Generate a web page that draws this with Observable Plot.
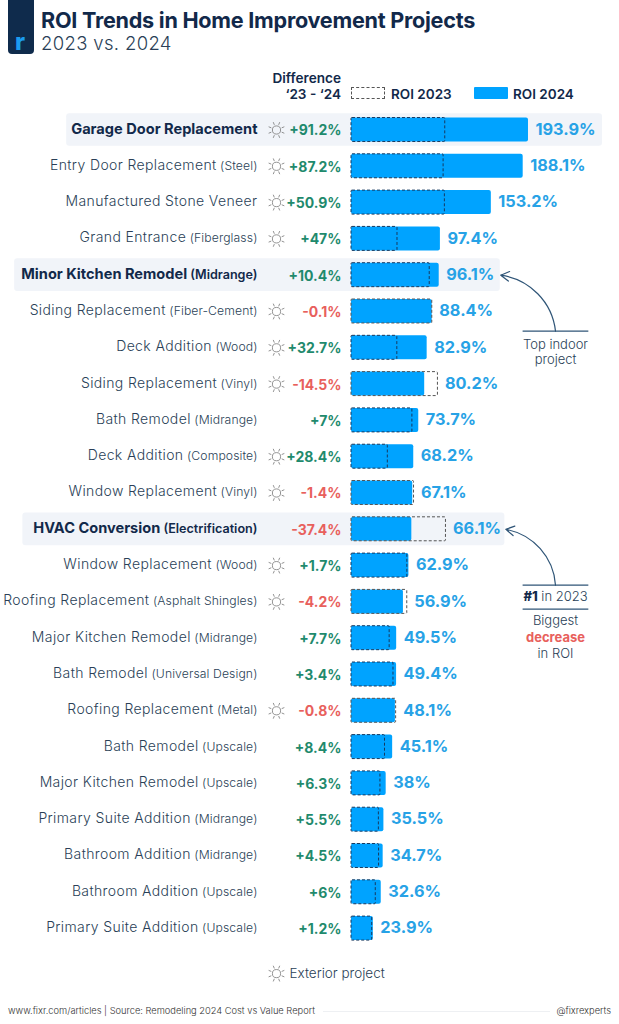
<!DOCTYPE html>
<html><head><meta charset="utf-8">
<script src="https://cdn.jsdelivr.net/npm/d3@7"></script>
<script src="https://cdn.jsdelivr.net/npm/@observablehq/plot@0.6"></script>
<style>
html,body{margin:0;padding:0;background:#fff;width:619px;overflow:hidden}
body{font-family:Inter,"Noto Sans",sans-serif;color:#12294a}
#head{position:relative;height:110px}
#head div{position:absolute;white-space:nowrap}
#logo{left:8px;top:0;width:26px;height:54px;background:#0f2b4c;border-radius:0 0 4px 4px}
#logo span{position:absolute;left:7px;bottom:0px;font:800 24px/24px Inter;color:#1b9cf0}
#title{left:41px;top:7px;font:700 21.6px/26px Inter;letter-spacing:-.25px;color:#12294a}
#sub{left:41px;top:31px;font:300 18.5px/24px Inter;letter-spacing:.35px;color:#2b3f57}
#diff{right:278px;top:70px;text-align:right;font:600 13.6px/16px Inter;color:#12294a}
.sw{height:12px;width:34px;top:87px;box-sizing:border-box;border-radius:1px}
.lg{top:86px;font:600 13.5px/16px Inter;color:#12294a}
#chart svg{display:block}
#foot{position:relative;height:34px}
#foot div{position:absolute;white-space:nowrap;font:300 9.3px/14px Inter;color:#333;top:14px}
</style></head><body>
<div id="head">
  <div id="logo"><span>r</span></div>
  <div id="title">ROI Trends in Home Improvement Projects</div>
  <div id="sub">2023 vs. 2024</div>
  <div id="diff">Difference<br>‘23 - ‘24</div>
  <div class="sw" style="left:351px;border:1px dashed #555"></div>
  <div class="lg" style="left:391px">ROI 2023</div>
  <div class="sw" style="left:474px;background:#00a3ff"></div>
  <div class="lg" style="left:513px">ROI 2024</div>
</div>
<div id="chart"></div>
<div id="foot">
  <div style="left:8px">www.fixr.com/articles | Source: Remodeling 2024 Cost vs Value Report</div>
  <div style="left:323px;top:21px;width:227px;height:1px;background:#eef0f3"></div>
  <div style="right:8px">@fixrexperts</div>
</div>
<script>
const names = ["Garage Door Replacement","Entry Door Replacement","Manufactured Stone Veneer","Grand Entrance","Minor Kitchen Remodel","Siding Replacement","Deck Addition","Siding Replacement","Bath Remodel","Deck Addition","Window Replacement","HVAC Conversion","Window Replacement","Roofing Replacement","Major Kitchen Remodel","Bath Remodel","Roofing Replacement","Bath Remodel","Major Kitchen Remodel","Primary Suite Addition","Bathroom Addition","Bathroom Addition","Primary Suite Addition"];
const details = ["","(Steel)","","(Fiberglass)","(Midrange)","(Fiber-Cement)","(Wood)","(Vinyl)","(Midrange)","(Composite)","(Vinyl)","(Electrification)","(Wood)","(Asphalt Shingles)","(Midrange)","(Universal Design)","(Metal)","(Upscale)","(Upscale)","(Midrange)","(Midrange)","(Upscale)","(Upscale)"];
const roi2024 = [193.9,188.1,153.2,97.4,96.1,88.4,82.9,80.2,73.7,68.2,67.1,66.1,62.9,56.9,49.5,49.4,48.1,45.1,38,35.5,34.7,32.6,23.9];
const roi2023 = [102.7,100.9,102.3,50.4,85.7,88.5,50.2,94.7,66.7,39.8,68.5,103.5,61.2,61.1,41.8,46,48.9,36.7,31.7,30,30.2,26.6,22.7];
const diffs = ["+91.2%","+87.2%","+50.9%","+47%","+10.4%","-0.1%","+32.7%","-14.5%","+7%","+28.4%","-1.4%","-37.4%","+1.7%","-4.2%","+7.7%","+3.4%","-0.8%","+8.4%","+6.3%","+5.5%","+4.5%","+6%","+1.2%"];
const exterior = [1,1,1,1,0,1,1,1,0,1,1,0,1,1,0,0,1,0,0,0,0,0,0];
const featured = [0,4,11];
const featuredLeft = [-312,-369,-360];
const featuredRight = [275,163,168];

const rows = names.map((name,i)=>({i,name,detail:details[i],v24:roi2024[i],v23:roi2023[i],diff:diffs[i],ext:exterior[i],bold:featured.includes(i)}));

const sun = {draw(c,size){
  const r=Math.sqrt(size/Math.PI), a=r*.48;
  c.moveTo(a,0); c.arc(0,0,a,0,2*Math.PI);
  for(let k=0;k<8;k++){const t=k*Math.PI/4+Math.PI/8;
    c.moveTo(Math.cos(t)*r*.66,Math.sin(t)*r*.66);
    c.lineTo(Math.cos(t)*r,Math.sin(t)*r);}
}};
const navy="#12294a", ink="#2a3f57", green="#1f8a6d", red="#e8605c", blue="#00a3ff", labelBlue="#27a2e6", arrowC="#2f5577";
const font="Inter";
const rowLabel = d=>d.name+"|"+d.detail;
const plot = Plot.plot({
  width:619,height:880,margin:0,
  style:{background:"transparent",fontFamily:font},
  x:{domain:[-384.5,293.6],range:[0,619],axis:null},
  y:{domain:[-0.5,23.6],range:[1.35,876.18],axis:null},
  marks:[
    Plot.rect(featured,{x1:(d,k)=>featuredLeft[k],x2:(d,k)=>featuredRight[k],y1:d=>d-.45,y2:d=>d+.45,fill:"#f1f4f9",rx:3}),
    Plot.rect(rows,{x1:0,x2:"v24",y1:d=>d.i-.33,y2:d=>d.i+.33,fill:blue,rx:2}),
    Plot.rect(rows,{x1:0,x2:"v23",y1:d=>d.i-.33,y2:d=>d.i+.33,stroke:d=>d.v23>d.v24?"#555":"#17395f",fill:"none",strokeWidth:1,strokeDasharray:"3 2",rx:1}),
    Plot.text(rows.filter(d=>!d.bold),{x:0,y:"i",dx:-94,dy:-1,text:rowLabel,textAnchor:"end",className:"rowlab",fill:ink,fontSize:14,fontWeight:300}),
    Plot.text(rows.filter(d=>d.bold),{x:0,y:"i",dx:-94,dy:-1,text:rowLabel,textAnchor:"end",className:"rowbold",fill:navy,fontSize:14.6,fontWeight:700}),
    Plot.dot(rows.filter(d=>d.ext),{x:0,y:"i",dx:-75,symbol:sun,r:8.5,stroke:"#777",strokeWidth:.8,fill:"none"}),
    Plot.text(rows,{x:0,y:"i",dx:-10,dy:1,text:"diff",textAnchor:"end",fill:d=>d.diff[0]==="-"?red:green,fontSize:14,fontWeight:700}),
    Plot.text(rows,{x:d=>Math.max(d.v23,d.v24),y:"i",dx:7,dy:-.5,text:d=>(+d.v24)+"%",textAnchor:"start",fill:labelBlue,fontSize:16.3,fontWeight:700}),
    // annotations
    Plot.arrow([0],{x1:223.5,y1:5.54,x2:163.5,y2:4,bend:-38,stroke:arrowC,strokeWidth:1.2,headLength:12}),
    Plot.ruleY([5.54],{x1:188,x2:260,stroke:arrowC,strokeWidth:1.3}),
    Plot.text(["Top indoor\nproject"],{x:223.5,y:6.1,text:d=>d,fill:ink,fontSize:13,fontWeight:300,lineHeight:1.22}),
    Plot.arrow([0],{x1:223.5,y1:12.54,x2:169,y2:11,bend:-38,stroke:arrowC,strokeWidth:1.2,headLength:12}),
    Plot.ruleY([12.54,13.2],{x1:188,x2:260,stroke:arrowC,strokeWidth:1.3}),
    Plot.text(["#1| in 2023"],{x:223.5,y:12.87,text:d=>d,className:"rank",fill:ink,fontSize:13,fontWeight:300}),
    Plot.text(["Biggest"],{x:223.5,y:13.53,text:d=>d,fill:ink,fontSize:13,fontWeight:300}),
    Plot.text(["decrease"],{x:223.5,y:13.98,text:d=>d,fill:red,fontSize:13,fontWeight:700}),
    Plot.text(["in ROI"],{x:223.5,y:14.43,text:d=>d,fill:ink,fontSize:13,fontWeight:300}),
    // exterior key
    Plot.dot([23.24],{x:0,y:d=>d,dx:-75,symbol:sun,r:8.5,stroke:"#777",strokeWidth:.8,fill:"none"}),
    Plot.text(["Exterior project"],{x:0,y:23.24,dx:-62,text:d=>d,textAnchor:"start",fill:ink,fontSize:13.5,fontWeight:300})
  ]
});
function split(sel,size,weight,spacing){
  d3.select(plot).selectAll(sel+" text").each(function(){
    const [a,b]=this.textContent.split("|"); const s=d3.select(this); s.text(a);
    if(b) s.append("tspan").attr("font-size",size).attr("font-weight",weight).attr("letter-spacing",spacing).text(" "+b);
  });
}
split(".rowlab",12.2,300,".1");
split(".rowbold",12.6,600,"0");
d3.select(plot).selectAll(".rowlab text").attr("letter-spacing",".38");
d3.select(plot).selectAll(".rank text").each(function(){
  const [a,b]=this.textContent.split("|"); const s=d3.select(this); s.text(null);
  s.append("tspan").attr("font-weight",800).attr("fill",navy).text(a);
  s.append("tspan").text(b);
});
document.getElementById("chart").appendChild(plot);
</script>
</body></html>
